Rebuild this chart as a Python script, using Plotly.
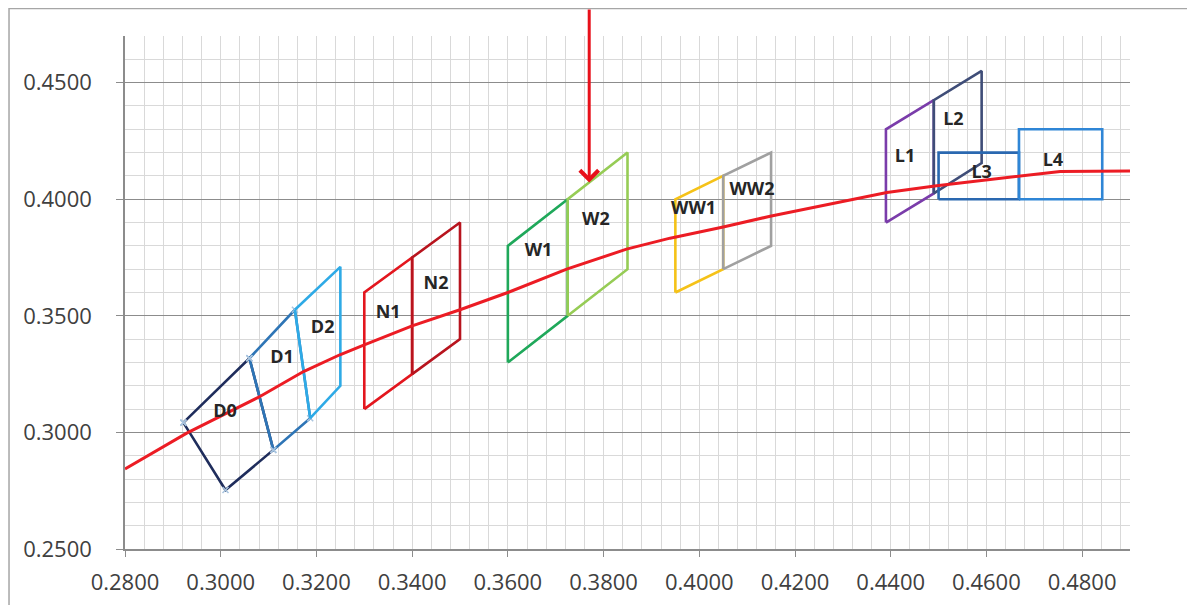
import plotly.graph_objects as go

# ---- data ----
curve_x = [0.280, 0.2929, 0.300, 0.3082, 0.3173, 0.3249, 0.330, 0.340, 0.350, 0.360,
           0.3723, 0.380, 0.3848, 0.3939, 0.405, 0.4148, 0.4266, 0.4392, 0.4496,
           0.467, 0.4754, 0.490]
curve_y = [0.2843, 0.2997, 0.3070, 0.3154, 0.3261, 0.3333, 0.3375, 0.3457, 0.3526, 0.3600,
           0.3700, 0.3752, 0.3786, 0.3833, 0.3881, 0.3927, 0.3976, 0.4029, 0.4058,
           0.4098, 0.4119, 0.4121]

shape_names = ["D0", "D1", "D2", "N1", "N2", "W1", "W2", "WW1", "WW2", "L1", "L2", "L3", "L4"]
shape_x = {
    "D0": [0.2922, 0.3060, 0.3110, 0.3010, 0.2922],
    "D1": [0.3060, 0.3155, 0.3187, 0.3110, 0.3060],
    "D2": [0.3155, 0.3250, 0.3250, 0.3187, 0.3155],
    "N1": [0.330, 0.330, 0.340, 0.340, 0.330],
    "N2": [0.340, 0.340, 0.350, 0.350, 0.340],
    "W1": [0.360, 0.360, 0.3725, 0.3725, 0.360],
    "W2": [0.3725, 0.3725, 0.385, 0.385, 0.3725],
    "WW1": [0.395, 0.395, 0.405, 0.405, 0.395],
    "WW2": [0.405, 0.405, 0.415, 0.415, 0.405],
    "L1": [0.439, 0.439, 0.449, 0.449, 0.439],
    "L2": [0.449, 0.449, 0.459, 0.459, 0.449],
    "L3": [0.450, 0.450, 0.4668, 0.4668, 0.450],
    "L4": [0.4668, 0.4668, 0.4842, 0.4842, 0.4668],
}
shape_y = {
    "D0": [0.3042, 0.3318, 0.2925, 0.2753, 0.3042],
    "D1": [0.3318, 0.3526, 0.3061, 0.2925, 0.3318],
    "D2": [0.3526, 0.3710, 0.3200, 0.3061, 0.3526],
    "N1": [0.310, 0.360, 0.375, 0.325, 0.310],
    "N2": [0.325, 0.375, 0.390, 0.340, 0.325],
    "W1": [0.330, 0.380, 0.400, 0.350, 0.330],
    "W2": [0.350, 0.400, 0.420, 0.370, 0.350],
    "WW1": [0.360, 0.400, 0.410, 0.370, 0.360],
    "WW2": [0.370, 0.410, 0.420, 0.380, 0.370],
    "L1": [0.390, 0.430, 0.4425, 0.4025, 0.390],
    "L2": [0.4025, 0.4425, 0.455, 0.4155, 0.4025],
    "L3": [0.400, 0.420, 0.420, 0.400, 0.400],
    "L4": [0.400, 0.430, 0.430, 0.400, 0.400],
}
label_x = [0.3009, 0.3128, 0.3213, 0.3350, 0.3450, 0.3664, 0.3784, 0.3988, 0.4110, 0.4430, 0.4531, 0.4590, 0.4739]
label_y = [0.3087, 0.3318, 0.3447, 0.3509, 0.3633, 0.3776, 0.3909, 0.3958, 0.4038, 0.4181, 0.4338, 0.4112, 0.4160]

arrow_x = 0.377
arrow_y = 0.4072

# ---- styles ----
colors = {
    "D0": "#1F2D5C", "D1": "#2E75B6", "D2": "#2EAAE6",
    "N1": "#E3161E", "N2": "#B8141E",
    "W1": "#1FA85A", "W2": "#96CC55",
    "WW1": "#F5C218", "WW2": "#A0A0A0",
    "L1": "#7A3CAA", "L2": "#3F4D78", "L3": "#2A68B0", "L4": "#2F86D6",
}

fig = go.Figure()

for name in shape_names:
    marker_mode = "lines+markers" if name in ("D0", "D1") else "lines"
    fig.add_trace(go.Scatter(
        x=shape_x[name], y=shape_y[name], mode=marker_mode,
        line=dict(color=colors[name], width=2.6),
        marker=dict(symbol="x-thin", size=6, color="#A9C4DE",
                    line=dict(color="#A9C4DE", width=1.5)),
        showlegend=False, hoverinfo="skip",
    ))

fig.add_trace(go.Scatter(
    x=curve_x, y=curve_y, mode="lines",
    line=dict(color="#EC1C24", width=3),
    showlegend=False, hoverinfo="skip",
))

fig.add_trace(go.Scatter(
    x=label_x, y=label_y, mode="text", text=shape_names,
    textfont=dict(family="Open Sans", size=18, color="#262626", weight="bold"),
    showlegend=False, hoverinfo="skip",
))

fig.add_annotation(
    x=arrow_x, y=arrow_y, xref="x", yref="y", ax=0, ay=-190,
    showarrow=True, arrowhead=4, arrowsize=1.2, arrowwidth=3,
    arrowcolor="#E8101A", text="",
)

# outer chart border
fig.add_shape(type="rect", xref="paper", yref="paper",
              x0=-0.1154, x1=1.07, y0=-0.12, y1=1.0535,
              line=dict(color="#A6A6A6", width=1.5), layer="below")

fig.update_layout(
    width=1195, height=605,
    margin=dict(l=117, r=73, t=28, b=64, autoexpand=False),
    paper_bgcolor="white", plot_bgcolor="white",
    font=dict(family="Open Sans", color="#404040"),
    xaxis=dict(
        range=[0.28, 0.49], dtick=0.02, tick0=0.28, tickformat=".4f",
        showgrid=True, gridcolor="#D9D9D9", gridwidth=1,
        minor=dict(tick0=0.28, dtick=0.004, showgrid=True, gridcolor="#D9D9D9", gridwidth=1),
        showline=True, linecolor="#8C8C8C", linewidth=1.5,
        ticks="outside", ticklen=6, tickcolor="#8C8C8C",
        tickfont=dict(size=22, color="#404040"), zeroline=False,
        ticklabelstandoff=7, automargin=False,
    ),
    yaxis=dict(
        range=[0.25, 0.47], dtick=0.05, tick0=0.25, tickformat=".4f",
        showgrid=True, gridcolor="#8C8C8C", gridwidth=1,
        minor=dict(tick0=0.25, dtick=0.01, showgrid=True, gridcolor="#D9D9D9", gridwidth=1),
        showline=True, linecolor="#8C8C8C", linewidth=1.5,
        ticks="outside", ticklen=7, tickcolor="#8C8C8C",
        tickfont=dict(size=22, color="#404040"), zeroline=False,
        ticklabelstandoff=20, automargin=False,
    ),
)

fig.write_html("out.html")
